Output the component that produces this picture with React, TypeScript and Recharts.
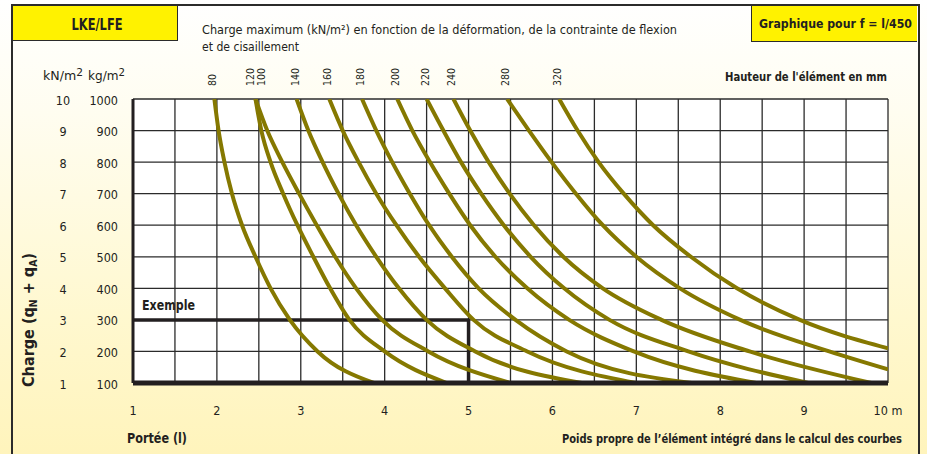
import React from 'react'
import { CartesianGrid, Line, LineChart, XAxis, YAxis } from 'recharts'

// load levels (kN/m2) at which each curve was read, top to bottom
const loadLevels = [10, 9, 8, 7, 6, 5, 4, 3, 2, 1]
const loadTicks = [1, 2, 3, 4, 5, 6, 7, 8, 9, 10]
const kgLabels = [100, 200, 300, 400, 500, 600, 700, 800, 900, 1000]
const spanTicks = [1, 1.5, 2, 2.5, 3, 3.5, 4, 4.5, 5, 5.5, 6, 6.5, 7, 7.5, 8, 8.5, 9, 9.5, 10]
const spanLabels = [1, 2, 3, 4, 5, 6, 7, 8, 9, 10]

// span (m) where each curve meets the load levels above
const h80 = [1.97, 2.02, 2.09, 2.18, 2.3, 2.46, 2.64, 2.87, 3.2, 3.87]
const h120 = [2.46, 2.53, 2.64, 2.79, 2.96, 3.15, 3.35, 3.58, 4.0, 4.74]
const h100 = [2.46, 2.6, 2.78, 2.98, 3.19, 3.41, 3.66, 3.97, 4.52, 5.5]
const h140 = [2.95, 3.09, 3.26, 3.45, 3.66, 3.9, 4.17, 4.5, 5.08, 6.35]
const h160 = [3.34, 3.5, 3.69, 3.9, 4.14, 4.41, 4.72, 5.06, 5.7, 7.0]
const h180 = [3.73, 3.9, 4.09, 4.3, 4.53, 4.8, 5.12, 5.56, 6.17, 7.66]
const h200 = [4.15, 4.33, 4.54, 4.77, 5.02, 5.32, 5.7, 6.2, 6.97, 8.43]
const h220 = [4.5, 4.7, 4.91, 5.15, 5.42, 5.74, 6.14, 6.68, 7.62, 9.05]
const h240 = [4.82, 5.02, 5.24, 5.49, 5.78, 6.13, 6.6, 7.3, 8.35, 9.8]
const h280 = [5.46, 5.72, 5.99, 6.28, 6.6, 7.0, 7.52, 8.24, 9.3]
const h320 = [6.08, 6.3, 6.55, 6.85, 7.2, 7.65, 8.2, 8.95]
// load where the two deepest sections leave the chart at 10 m
const end280 = 1.43
const end320 = 2.1

// worked example: 5 m span, 300 kg/m2
const exampleSpans = [1, 5, 5]
const exampleLoads = [3, 3, 1]

const FONT = "'DejaVu Sans Condensed', 'DejaVu Sans', sans-serif"
const INK = '#231f20'
const OLIVE = '#857800'

const curve = (spans: number[], endLoad?: number) => {
  const pts = spans.map((span, i) => ({ span, load: loadLevels[i] }))
  if (endLoad !== undefined) pts.push({ span: 10, load: endLoad })
  return pts
}

const series = [
  { name: '80', data: curve(h80) },
  { name: '120', data: curve(h120) },
  { name: '100', data: curve(h100) },
  { name: '140', data: curve(h140) },
  { name: '160', data: curve(h160) },
  { name: '180', data: curve(h180) },
  { name: '200', data: curve(h200) },
  { name: '220', data: curve(h220) },
  { name: '240', data: curve(h240) },
  { name: '280', data: curve(h280, end280) },
  { name: '320', data: curve(h320, end320) },
]

const exampleData = exampleSpans.map((span, i) => ({ span, load: exampleLoads[i] }))

const nudge: Record<string, number> = { '120': -5, '100': 6 }

const LoadTick = (props: any) => {
  const { y, payload } = props
  const kg = kgLabels[loadTicks.indexOf(payload.value)]
  return (
    <g fill={INK} fontSize={12.5} fontFamily={FONT}>
      <text x={63} y={y + 1} textAnchor="middle" dominantBaseline="central">
        {payload.value}
      </text>
      <text x={118} y={y + 1} textAnchor="end" dominantBaseline="central">
        {kg}
      </text>
    </g>
  )
}

const SpanTick = (props: any) => {
  const { x, y, payload } = props
  if (!spanLabels.includes(payload.value)) return <g />
  return (
    <text
      x={x}
      y={y + 27}
      textAnchor="middle"
      dominantBaseline="central"
      fill={INK}
      fontSize={12.5}
      fontFamily={FONT}
    >
      {payload.value === 10 ? '10 m' : payload.value}
    </text>
  )
}

const headLabel = (name: string) => (p: any) => {
  if (p.index !== 0) return <g key={name} />
  const x = p.x + (nudge[name] ?? -2)
  const y = p.y - 13
  return (
    <text
      key={name}
      x={x}
      y={y}
      transform={`rotate(-90, ${x}, ${y})`}
      textAnchor="start"
      dominantBaseline="central"
      fill={INK}
      fontSize={10.5}
      fontFamily={FONT}
    >
      {name}
    </text>
  )
}

const fit = { lengthAdjust: 'spacingAndGlyphs' as const }

export default function App() {
  return (
    <div
      style={{
        position: 'fixed',
        left: 0,
        top: 0,
        width: 927,
        height: 454,
        overflow: 'hidden',
        background: 'linear-gradient(to bottom, #ffffff 0%, #fffdf0 25%, #fff8cf 70%, #fff4bc 100%)',
      }}
    >
      <div
        style={{
          position: 'absolute',
          left: 11,
          top: 4,
          width: 905,
          height: 470,
          border: '2px solid #2b2b2b',
        }}
      />
      <div
        style={{
          position: 'absolute',
          left: 13,
          top: 6,
          width: 164,
          height: 34,
          background: '#fff200',
          borderRight: '1.5px solid #2b2b2b',
          borderBottom: '1.5px solid #2b2b2b',
        }}
      />
      <div
        style={{
          position: 'absolute',
          left: 751,
          top: 6,
          width: 165,
          height: 35,
          background: '#fff200',
          borderLeft: '1.5px solid #2b2b2b',
          borderBottom: '1.5px solid #2b2b2b',
        }}
      />

      <div style={{ position: 'absolute', left: 0, top: 0 }}>
        <LineChart width={927} height={454} margin={{ top: 99, right: 39, bottom: 0, left: 1 }}>
          <CartesianGrid
            stroke="#2b2b2b"
            strokeWidth={1.3}
            fill="#ffffff"
            fillOpacity={1}
            horizontalValues={loadTicks}
            verticalValues={spanTicks}
          />
          <XAxis
            type="number"
            dataKey="span"
            domain={[1, 10]}
            ticks={spanTicks}
            interval={0}
            allowDataOverflow
            height={71}
            tickSize={0}
            tickMargin={0}
            tickLine={false}
            axisLine={{ stroke: INK, strokeWidth: 5 }}
            tick={<SpanTick />}
          />
          <YAxis
            type="number"
            dataKey="load"
            domain={[1, 10]}
            ticks={loadTicks}
            interval={0}
            allowDataOverflow
            width={132}
            tickLine={false}
            axisLine={{ stroke: INK, strokeWidth: 3 }}
            tick={<LoadTick />}
          />
          <Line
            data={exampleData}
            dataKey="load"
            type="linear"
            stroke={INK}
            strokeWidth={3.5}
            dot={false}
            isAnimationActive={false}
          />
          {series.map((s) => (
            <Line
              key={s.name}
              name={s.name}
              data={s.data}
              dataKey="load"
              type="monotone"
              stroke={OLIVE}
              strokeWidth={4}
              dot={false}
              isAnimationActive={false}
              label={headLabel(s.name)}
            />
          ))}
        </LineChart>
      </div>

      <svg
        width={927}
        height={454}
        style={{ position: 'absolute', left: 0, top: 0, pointerEvents: 'none' }}
        fontFamily={FONT}
        fill={INK}
      >
        <text x={97} y={30} fontSize={15} fontWeight="bold" textAnchor="middle" textLength={51} {...fit}>
          LKE/LFE
        </text>
        <text x={912} y={28} fontSize={13} fontWeight="bold" textAnchor="end" textLength={153} {...fit}>
          Graphique pour f = l/450
        </text>
        <text x={202} y={34} fontSize={12.5} textLength={475} {...fit}>
          Charge maximum (kN/m²) en fonction de la déformation, de la contrainte de flexion
        </text>
        <text x={202} y={51} fontSize={12.5} textLength={97} {...fit}>
          et de cisaillement
        </text>
        <text x={43} y={80} fontSize={13} textLength={40} {...fit}>
          kN/m<tspan fontSize={11} dy={-4}>2</tspan>
        </text>
        <text x={88} y={80} fontSize={13} textLength={37} {...fit}>
          kg/m<tspan fontSize={11} dy={-4}>2</tspan>
        </text>
        <text x={887} y={81} fontSize={13} fontWeight="bold" textAnchor="end" textLength={162} {...fit}>
          Hauteur de l'élément en mm
        </text>
        <text x={142} y={310} fontSize={14} fontWeight="bold" textLength={53} {...fit}>
          Exemple
        </text>
        <text x={127} y={443} fontSize={14.5} fontWeight="bold" textLength={60} {...fit}>
          Portée (l)
        </text>
        <g transform="translate(902, 443) scale(0.85, 1)">
          <text x={0} y={0} fontSize={13} fontWeight="bold" textAnchor="end">
            Poids propre de l’élément intégré dans le calcul des courbes
          </text>
        </g>
        <text
          x={34}
          y={387}
          fontSize={15.5}
          fontWeight="bold"
          textLength={134}
          {...fit}
          transform="rotate(-90, 34, 387)"
        >
          Charge (q<tspan fontSize={10} dy={3}>N</tspan>
          <tspan dy={-3}> + q</tspan>
          <tspan fontSize={10} dy={3}>A</tspan>
          <tspan dy={-3}>)</tspan>
        </text>
      </svg>
    </div>
  )
}
